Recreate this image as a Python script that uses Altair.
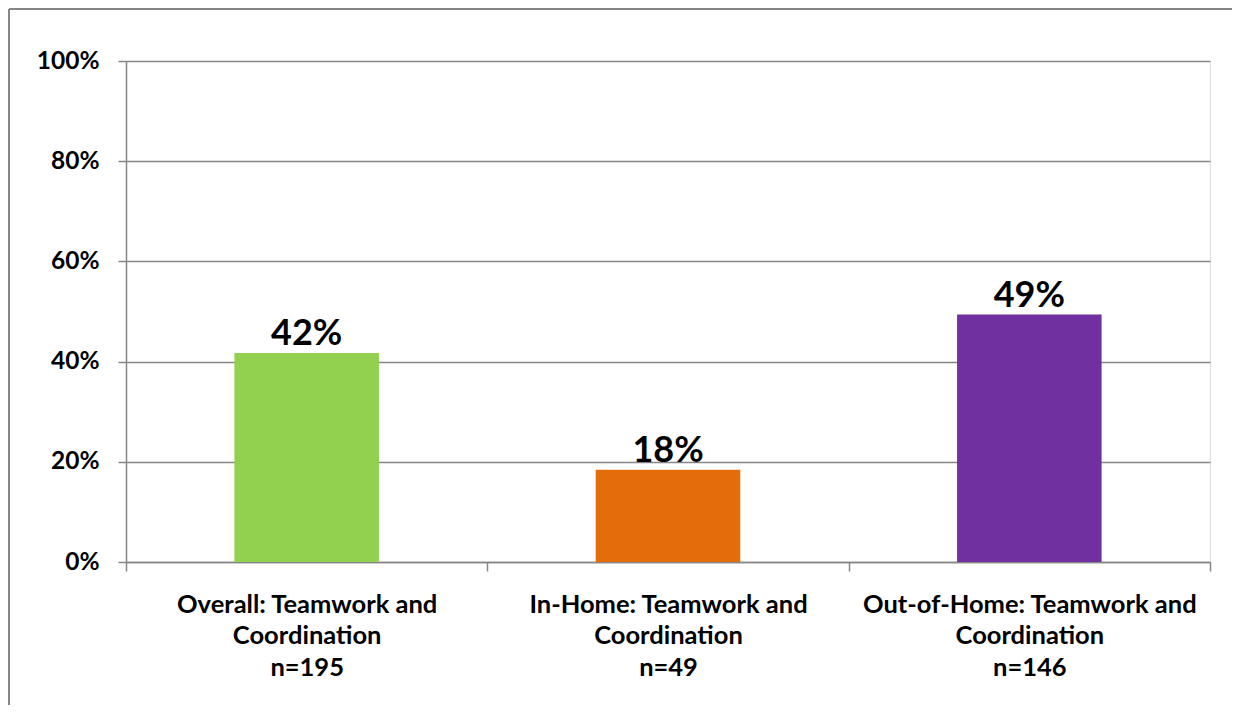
import altair as alt
import pandas as pd

categories = [
    "Overall: Teamwork and|Coordination|n=195",
    "In-Home: Teamwork and|Coordination|n=49",
    "Out-of-Home: Teamwork and|Coordination|n=146",
]
values = [0.417, 0.184, 0.494]
colors = ["#92D050", "#E46C0A", "#7030A0"]
y_ticks = [0, 0.2, 0.4, 0.6, 0.8, 1.0]

df = pd.DataFrame({"category": categories, "value": values})

W, H = 1084, 501
FONT = "Lato"
GRAY = "#868686"

base = alt.Chart(df)

x_enc = alt.X(
    "category:N",
    sort=None,
    scale=alt.Scale(paddingInner=0, paddingOuter=0),
    axis=alt.Axis(
        title=None,
        labelAngle=0,
        labelExpr="split(datum.label, '|')",
        labelLineHeight=31.5,
        labelPadding=21,
        labelBaseline="top",
        labelLimit=500,
        labelFont=FONT,
        labelFontSize=25.5,
        labelFontWeight="bold",
        labelColor="black",
        tickBand="extent",
        tickSize=9,
        tickColor=GRAY,
        tickWidth=1.5,
        domainColor=GRAY,
        domainWidth=1.5,
    ),
)

y_enc = alt.Y(
    "value:Q",
    scale=alt.Scale(domain=[0, 1], nice=False),
    axis=alt.Axis(
        title=None,
        values=y_ticks,
        format=".0%",
        grid=True,
        gridColor=GRAY,
        gridWidth=1.5,
        tickSize=8,
        tickColor=GRAY,
        tickWidth=1.5,
        domainColor=GRAY,
        domainWidth=1.5,
        labelPadding=19,
        labelFont=FONT,
        labelFontSize=24.5,
        labelFontWeight="bold",
        labelColor="black",
    ),
)

bars = base.mark_bar(width=alt.RelativeBandSize(0.4)).encode(
    x=x_enc,
    y=y_enc,
    color=alt.Color(
        "category:N",
        sort=None,
        scale=alt.Scale(domain=categories, range=colors),
        legend=None,
    ),
)

labels = base.mark_text(
    font=FONT, fontSize=36, fontWeight="bold", baseline="alphabetic", dy=-8, color="black"
).encode(
    x=alt.X("category:N", sort=None),
    y="value:Q",
    text=alt.Text("value:Q", format=".0%"),
)

frame_df = pd.DataFrame({"k": [0]})
left_border = alt.Chart(frame_df).mark_rule(color=GRAY, strokeWidth=2).encode(
    x=alt.value(-117), y=alt.value(-52), y2=alt.value(H + 150)
)
top_border = alt.Chart(frame_df).mark_rule(color=GRAY, strokeWidth=2).encode(
    x=alt.value(-117), x2=alt.value(W + 30), y=alt.value(-52)
)

chart = (
    alt.layer(bars, labels, left_border, top_border)
    .properties(
        width=W,
        height=H,
        autosize=alt.AutoSizeParams(type="none"),
        padding={"left": 118, "top": 53, "right": 22, "bottom": 143},
    )
    .configure_view(stroke=None)
    .configure(background="white")
)

chart.save("out.html", embed_options={"renderer": "svg", "actions": False})
